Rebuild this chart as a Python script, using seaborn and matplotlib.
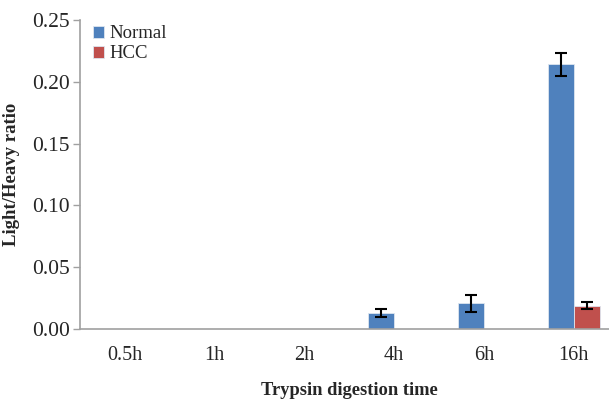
import pandas as pd
import numpy as np
import matplotlib.pyplot as plt
import seaborn as sns

# dati
times = ["0.5h", "1h", "2h", "4h", "6h", "16h"]
normal = [0, 0, 0, 0.013, 0.021, 0.214]
normal_err = [0, 0, 0, 0.003, 0.007, 0.009]
hcc = [0, 0, 0, 0, 0, 0.019]
hcc_err = [0, 0, 0, 0, 0, 0.003]

df = pd.DataFrame({
    "time": times * 2,
    "ratio": normal + hcc,
    "group": ["Normal"] * len(times) + ["HCC"] * len(times),
})

sns.set_style("white")
plt.rcParams['font.family'] = ['Liberation Serif', 'DejaVu Serif']

fig = plt.figure(figsize=(6.09, 3.99), dpi=100)
ax = fig.add_axes([0.131, 0.175, 0.885, 0.775])

sns.barplot(data=df, x="time", y="ratio", hue="group", order=times,
            hue_order=["Normal", "HCC"], palette=["#4F81BD", "#C0504D"],
            saturation=1, width=0.58, errorbar=None, ax=ax,
            edgecolor="#DDE6F0", linewidth=0.6)

# barre d'errore
for cont, err in zip(ax.containers, [normal_err, hcc_err]):
    for bar, e in zip(cont, err):
        if e > 0:
            x = bar.get_x() + bar.get_width() / 2
            ax.errorbar(x, bar.get_height(), yerr=e, fmt="none", ecolor="black",
                        elinewidth=1.5, capsize=4, capthick=1.5)

ax.set_xlim(-0.5, 5.5)
ax.set_ylim(0, 0.25)
ax.set_yticks(np.arange(0, 0.26, 0.05))
ax.set_yticklabels(["%.2f" % v for v in np.arange(0, 0.26, 0.05)], fontsize=15.5)
ax.tick_params(axis="x", labelsize=14.5, length=0, pad=12)
ax.tick_params(axis="y", length=5, color="#A0A0A0", width=1, left=True, pad=2)

for s in ["top", "right"]:
    ax.spines[s].set_visible(False)
for s in ["left", "bottom"]:
    ax.spines[s].set_color("#A0A0A0")
    ax.spines[s].set_linewidth(1.2)

ax.set_xlabel("Trypsin digestion time", fontsize=13.3, fontweight="bold", labelpad=12)
ax.set_ylabel("Light/Heavy ratio", fontsize=13.5, fontweight="bold", labelpad=9)

ax.legend(loc="upper left", bbox_to_anchor=(0.0, 1.025), frameon=False, fontsize=13.5,
          handlelength=0.6, handleheight=0.6, handletextpad=0.3, labelspacing=0.15,
          borderaxespad=0.3)

fig.savefig("out.png", dpi=100)
